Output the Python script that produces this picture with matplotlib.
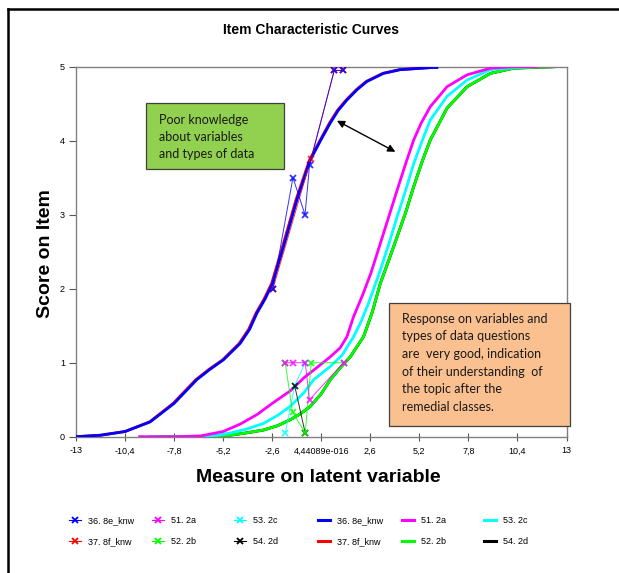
import matplotlib
matplotlib.use("Agg")
import matplotlib.pyplot as plt
from matplotlib.lines import Line2D
from matplotlib.patches import Rectangle

plt.rcParams['font.family'] = ['Liberation Sans', 'DejaVu Sans']

# ---------------- data ----------------
x_tick_values = [-13, -10.4, -7.8, -5.2, -2.6, 0.0, 2.6, 5.2, 7.8, 10.4, 13]
x_tick_labels = ["-13", "-10,4", "-7,8", "-5,2", "-2,6", "4,44089e-016",
                 "2,6", "5,2", "7,8", "10,4", "13"]
y_tick_values = [0, 1, 2, 3, 4, 5]

# expected score curves (measure, score)
exp_8e_x = [-13, -11.7, -10.4, -9.07, -7.8, -6.6, -5.9, -5.18, -4.3, -3.8, -3.41,
            -2.98, -2.58, -2.0, -1.29, -0.58, 0.0, 0.48, 0.9, 1.36, 1.9, 2.42,
            3.3, 4.19, 5.94, 6.2]
exp_8e_y = [0.0, 0.02, 0.07, 0.2, 0.45, 0.77, 0.91, 1.04, 1.26, 1.45, 1.67,
            1.86, 2.07, 2.57, 3.2, 3.74, 4.02, 4.24, 4.41, 4.55, 4.69, 4.8,
            4.91, 4.96, 4.99, 4.99]
exp_8f_x = [-13, -11.7, -10.4, -9.1, -7.85, -6.65, -5.95, -5.22, -4.35, -3.85, -3.46,
            -3.03, -2.63, -2.05, -1.34, -0.62, -0.03, 0.44, 0.86, 1.32, 1.86, 2.38,
            3.26, 4.15, 5.9, 6.2]
exp_8f_y = [0.0, 0.02, 0.07, 0.2, 0.45, 0.77, 0.91, 1.04, 1.26, 1.45, 1.67,
            1.86, 2.07, 2.57, 3.2, 3.74, 4.02, 4.24, 4.41, 4.55, 4.69, 4.8,
            4.91, 4.96, 4.99, 4.99]
exp_2a_x = [-9.7, -7.8, -6.4, -5.2, -4.3, -3.4, -2.6, -1.64, -0.9, -0.4, 0.48,
            1.0, 1.36, 1.71, 2.2, 2.63, 3.13, 3.6, 4.02, 4.5, 4.9, 5.3, 5.78,
            6.67, 7.73, 8.97, 10.2, 11.45]
exp_2a_y = [0.0, 0.0, 0.01, 0.07, 0.17, 0.3, 0.45, 0.62, 0.8, 0.9, 1.08,
            1.2, 1.35, 1.62, 1.92, 2.21, 2.61, 2.99, 3.33, 3.71, 4.01, 4.24, 4.46,
            4.73, 4.89, 4.98, 5.0, 5.0]
exp_2b_x = [-8.7, -6.5, -4.83, -4.0, -3.06, -2.3, -1.64, -1.1, -0.58, 0.0, 0.48,
            1.0, 1.54, 2.24, 2.7, 3.13, 3.6, 4.02, 4.5, 4.9, 5.35, 5.78, 6.67,
            7.73, 8.97, 10.2, 12.4]
exp_2b_y = [0.0, 0.0, 0.02, 0.05, 0.09, 0.15, 0.23, 0.31, 0.41, 0.58, 0.77,
            0.93, 1.08, 1.35, 1.68, 2.07, 2.4, 2.7, 3.05, 3.38, 3.72, 4.01, 4.44,
            4.73, 4.91, 4.98, 5.0]
exp_2c_x = [-9.2, -7.0, -5.5, -4.83, -4.0, -3.06, -2.3, -1.64, -0.9, -0.4, 0.48,
            1.1, 1.71, 2.1, 2.5, 3.13, 3.6, 4.02, 4.5, 4.9, 5.35, 5.78, 6.67,
            7.73, 8.97, 10.2, 11.2]
exp_2c_y = [0.0, 0.0, 0.02, 0.05, 0.1, 0.18, 0.29, 0.41, 0.6, 0.77, 0.95,
            1.1, 1.35, 1.55, 1.8, 2.25, 2.62, 2.97, 3.35, 3.69, 4.0, 4.28, 4.6,
            4.82, 4.96, 4.99, 5.0]
exp_2d_x = list(exp_2b_x)
exp_2d_y = list(exp_2b_y)

# observed scores (measure, score)
obs_8e_x = [-2.56, -1.5, -0.86, -0.62, 0.69, 1.15]
obs_8e_y = [2.0, 3.5, 3.0, 3.67, 4.95, 4.95]
obs_8f_x = [-2.56, -0.55, 0.69, 1.15]
obs_8f_y = [2.0, 3.75, 4.95, 4.95]
obs_2a_x = [-1.91, -1.52, -0.85, -0.62, 1.18]
obs_2a_y = [1.0, 1.0, 1.0, 0.5, 1.0]
obs_2b_x = [-1.91, -1.52, -0.85, -0.53, 1.18]
obs_2b_y = [1.0, 0.33, 0.05, 1.0, 1.0]
obs_2c_x = [-1.91, -1.41, -0.85]
obs_2c_y = [0.05, 0.69, 1.0]
obs_2d_x = [-1.41, -0.85]
obs_2d_y = [0.69, 0.05]

series_names = ["36. 8e_knw", "37. 8f_knw", "51. 2a", "52. 2b", "53. 2c", "54. 2d"]
series_colors = ["#0000FF", "#FF0000", "#FF00FF", "#00FF00", "#00FFFF", "#000000"]

green_note = "Poor knowledge\nabout variables\nand types of data"
orange_lines = ["Response on variables and", "types of data questions",
                "are  very good, indication", "of their understanding  of",
                "the topic after the", "remedial classes."]

# ---------------- figure ----------------
W, H = 619, 573
fig = plt.figure(figsize=(W / 100, H / 100), dpi=100)
ax = fig.add_axes([76 / W, 1 - 436.7 / H, 490.5 / W, 370 / H])

exp_x = [exp_8e_x, exp_8f_x, exp_2a_x, exp_2b_x, exp_2c_x, exp_2d_x]
exp_y = [exp_8e_y, exp_8f_y, exp_2a_y, exp_2b_y, exp_2c_y, exp_2d_y]
obs_x = [obs_8e_x, obs_8f_x, obs_2a_x, obs_2b_x, obs_2c_x, obs_2d_x]
obs_y = [obs_8e_y, obs_8f_y, obs_2a_y, obs_2b_y, obs_2c_y, obs_2d_y]

# expected curves (draw order so that visible overlaps match)
for i, z in [(5, 1), (3, 2), (4, 3), (2, 4), (1, 5), (0, 6)]:
    ax.plot(exp_x[i], exp_y[i], color=series_colors[i], lw=2.0,
            solid_capstyle='butt', solid_joinstyle='round', zorder=z)
# observed points
for i, z in [(1, 7), (0, 8), (4, 9), (5, 10), (3, 11), (2, 12)]:
    ax.plot(obs_x[i], obs_y[i], color=series_colors[i], lw=0.7, alpha=0.8,
            marker='x', markersize=4.5, markeredgewidth=1.3, zorder=z)

ax.set_xlim(-13, 13)
ax.set_ylim(0, 5)
ax.set_xticks(x_tick_values)
ax.set_xticklabels(x_tick_labels)
ax.set_yticks(y_tick_values)
ax.set_yticklabels([str(v) for v in y_tick_values])
ax.tick_params(axis='x', direction='inout', length=6, width=0.8, color='#555555',
               labelsize=6.5, pad=4)
ax.tick_params(axis='y', direction='out', length=5, width=0.8, color='#555555',
               labelsize=6.5, pad=3)
for s in ax.spines.values():
    s.set_color('#808080')
    s.set_linewidth(1.0)

# arrow
ax.annotate('', xy=(0.83, 4.27), xytext=(3.93, 3.85),
            arrowprops=dict(arrowstyle='<|-|>', color='black', lw=1.0,
                            mutation_scale=11, shrinkA=0, shrinkB=0), zorder=20)

# green note box
ax.add_patch(Rectangle((0.1427, 0.7227), 0.282, 0.1783, transform=ax.transAxes,
                       facecolor='#92D050', edgecolor='#404040', lw=0.9, zorder=15))
ax.text(0.1699, 0.8095, green_note, transform=ax.transAxes, ha='left', va='center',
        fontsize=9, family=['Lato', 'DejaVu Sans'], color='#1a1a1a',
        linespacing=1.5, zorder=16)

# orange note box
ax.add_patch(Rectangle((0.6388, 0.0297), 0.369, 0.3308, transform=ax.transAxes,
                       facecolor='#FAC090', edgecolor='#404040', lw=0.9, zorder=15,
                       clip_on=False))
orange_y = [0.318, 0.2719, 0.2243, 0.1746, 0.1278, 0.08]
for t, yy in zip(orange_lines, orange_y):
    ax.text(0.664, yy, t, transform=ax.transAxes, ha='left', va='center',
            fontsize=9, family=['Lato', 'DejaVu Sans'], color='#1a1a1a', zorder=16)

# titles
fig.text(311 / W, 1 - 30 / H, "Item Characteristic Curves", ha='center', va='center',
         fontsize=10, fontweight='bold')
fig.text(318 / W, 1 - 477 / H, "Measure on latent variable", ha='center', va='center',
         fontsize=14, fontweight='bold')
fig.text(45 / W, 1 - 254 / H, "Score on Item", ha='center', va='center',
         fontsize=14, fontweight='bold', rotation=90)

# legend: six columns of two entries
obs_handles = [Line2D([], [], color=c, lw=0.8, marker='x', markersize=4.5,
                      markeredgewidth=1.3) for c in series_colors]
exp_handles = [Line2D([], [], color=c, lw=2.2) for c in series_colors]
col_left_px = [68.7, 151.7, 233.7, 317.7, 401.7, 483.7]
for k in range(6):
    if k < 3:
        hs = obs_handles[2 * k:2 * k + 2]
    else:
        hs = exp_handles[2 * (k - 3):2 * (k - 3) + 2]
    labs = series_names[2 * (k % 3):2 * (k % 3) + 2]
    fig.legend(hs, labs, loc='center left',
               bbox_to_anchor=(col_left_px[k] / W, 1 - 531 / H),
               frameon=False, fontsize=6.5, handlelength=1.4, handletextpad=0.75,
               labelspacing=1.3, borderpad=0, borderaxespad=0)

# outer border (left and top)
fig.add_artist(Line2D([8 / W, 8 / W], [0, 1 - 9 / H], color='black', lw=1.8,
                      transform=fig.transFigure))
fig.add_artist(Line2D([8 / W, 1], [1 - 9 / H, 1 - 9 / H], color='black', lw=1.8,
                      transform=fig.transFigure))

fig.savefig("out.png", dpi=100)
